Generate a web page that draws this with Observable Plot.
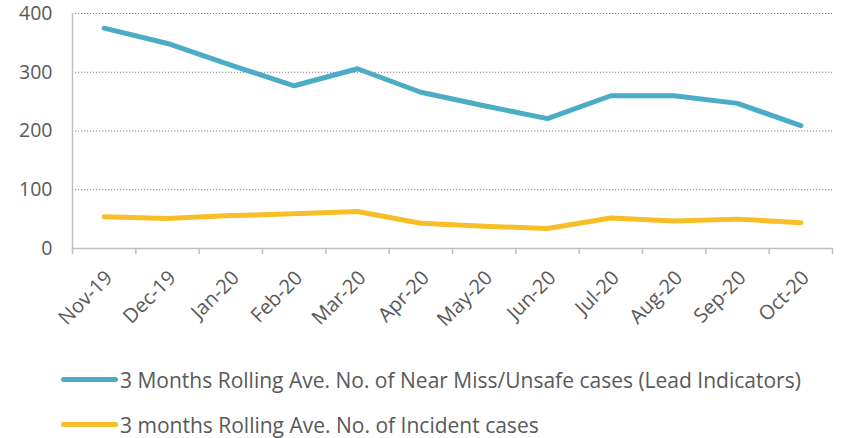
<!DOCTYPE html>
<html>
<head>
<meta charset="utf-8">
<script src="https://cdn.jsdelivr.net/npm/d3@7"></script>
<script src="https://cdn.jsdelivr.net/npm/@observablehq/plot@0.6"></script>
<style>
  html, body { margin: 0; padding: 0; background: #fff; }
  #chart { width: 843px; }
  .legend { font-family: "Open Sans", sans-serif; font-size: 21px; color: #595959; padding-top: 12px; }
  .legend .item { display: flex; align-items: center; height: 45px; margin-left: 61px; white-space: nowrap; }
  .legend .sw { width: 57px; height: 5px; border-radius: 3px; margin-right: 2px; flex: none; }
</style>
</head>
<body>
<div id="chart"></div>
<script>
const months = ["Nov-19","Dec-19","Jan-20","Feb-20","Mar-20","Apr-20","May-20","Jun-20","Jul-20","Aug-20","Sep-20","Oct-20"];
const nearMiss = [375, 349, 312, 277, 306, 266, 243, 221, 260, 260, 247, 209];
const incidents = [54, 51, 56, 59, 63, 43, 38, 34, 52, 47, 50, 44];
const seriesNames = ["3 Months Rolling Ave. No. of Near Miss/Unsafe cases (Lead Indicators)", "3 months Rolling Ave. No. of Incident cases"];
const colors = ["#4BACC6", "#F7BE27"];
const yTicks = [0, 100, 200, 300, 400];

const data = [];
months.forEach((m, i) => {
  data.push({i, month: m, value: nearMiss[i], series: seriesNames[0]});
  data.push({i, month: m, value: incidents[i], series: seriesNames[1]});
});
const idx = d3.range(months.length);
const bounds = d3.range(months.length + 1).map(i => i - 0.5);

const font = "'Open Sans', sans-serif";
const plot = Plot.plot({
  width: 843,
  height: 345,
  marginLeft: 72,
  marginRight: 11,
  marginTop: 13,
  marginBottom: 97,
  style: {fontFamily: font, fontSize: "20px", background: "#fff", overflow: "visible"},
  x: {type: "linear", domain: [-0.5, months.length - 0.5]},
  y: {domain: [0, 400]},
  color: {domain: seriesNames, range: colors},
  marks: [
    Plot.gridY(yTicks.filter(d => d > 0), {stroke: "#7f7f7f", strokeOpacity: 1, strokeWidth: 1.2, strokeDasharray: "1.2,1.8"}),
    Plot.ruleX([-0.5], {stroke: "#bfbfbf", strokeWidth: 1.5}),
    Plot.ruleY([0], {stroke: "#bfbfbf", strokeWidth: 1.5}),
    Plot.axisY({ticks: yTicks, tickSize: 0, tickPadding: 20, fontSize: 19.5, color: "#595959", label: null}),
    Plot.axisX({ticks: bounds, tickFormat: () => "", tickSize: 6, stroke: "#bfbfbf", strokeWidth: 1.5, label: null}),
    Plot.axisX({ticks: idx, tickFormat: i => months[i], tickSize: 0, tickRotate: -45, tickPadding: 4, dx: 5, dy: 22, fontSize: 20, color: "#595959", label: null}),
    Plot.line(data, {x: "i", y: "value", z: "series", stroke: "series", strokeWidth: 5, strokeLinecap: "round", strokeLinejoin: "round"})
  ]
});
const chart = document.getElementById("chart");
chart.appendChild(plot);

const legend = document.createElement("div");
legend.className = "legend";
seriesNames.forEach((s, k) => {
  const item = document.createElement("div");
  item.className = "item";
  const sw = document.createElement("span");
  sw.className = "sw";
  sw.style.background = colors[k];
  const label = document.createElement("span");
  label.textContent = s;
  item.appendChild(sw);
  item.appendChild(label);
  legend.appendChild(item);
});
chart.appendChild(legend);
</script>
</body>
</html>
